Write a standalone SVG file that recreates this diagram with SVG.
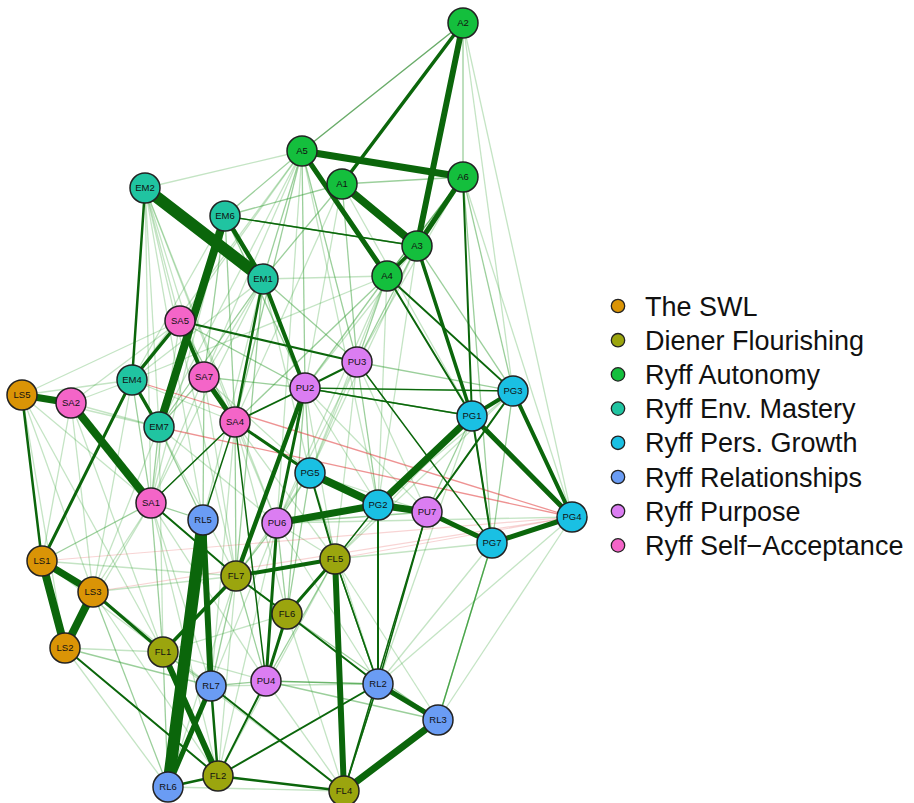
<svg xmlns="http://www.w3.org/2000/svg" width="914" height="803" viewBox="0 0 914 803">
<style>
.d{stroke:#0b660b;stroke-linecap:round;fill:none}
.f1{stroke:#1f8f1f;stroke-opacity:.65;stroke-width:1.4}
.f2{stroke:#2e9b2e;stroke-opacity:.48;stroke-width:1.3}
.f3{stroke:#3aa53a;stroke-opacity:.3;stroke-width:1.3}
.n{stroke:#e03a3a;stroke-opacity:.55;stroke-width:1.3}
.n2{stroke:#e03a3a;stroke-opacity:.22;stroke-width:1.2}
.nd circle{stroke:#222;stroke-width:1.5}
.nd text{font-family:"Liberation Sans",Arial,sans-serif;font-size:9.5px;fill:#111;text-anchor:middle}
.sw{fill:#DA9406}.fl{fill:#9BA50E}.au{fill:#14BF3D}.em{fill:#20C4A1}.pg{fill:#1AC0E3}.rl{fill:#6A9CF4}.pu{fill:#DB7DF2}.sa{fill:#F465C8}
.lg circle{stroke:#222;stroke-width:1.3}
.lg text{font-family:"Liberation Sans",Arial,sans-serif;font-size:27px;fill:#111}
</style>
<rect width="914" height="803" fill="#fff"/>
<g id="edges">
<g class="f3">
<line x1="145" y1="188" x2="302" y2="151"/><line x1="145" y1="188" x2="204" y2="377"/><line x1="145" y1="188" x2="235" y2="422"/>
<line x1="145" y1="188" x2="159" y2="427"/><line x1="145" y1="188" x2="151" y2="503"/><line x1="145" y1="188" x2="277" y2="523"/>
<line x1="145" y1="188" x2="236" y2="576"/><line x1="145" y1="188" x2="203" y2="520"/><line x1="145" y1="188" x2="180" y2="321"/>
<line x1="302" y1="151" x2="180" y2="321"/><line x1="302" y1="151" x2="204" y2="377"/><line x1="302" y1="151" x2="132" y2="380"/>
<line x1="302" y1="151" x2="159" y2="427"/><line x1="302" y1="151" x2="277" y2="523"/><line x1="302" y1="151" x2="378" y2="505"/>
<line x1="342" y1="184" x2="305" y2="388"/><line x1="342" y1="184" x2="235" y2="422"/><line x1="342" y1="184" x2="472" y2="416"/>
<line x1="463" y1="23" x2="513" y2="391"/><line x1="463" y1="23" x2="572" y2="517"/><line x1="463" y1="177" x2="572" y2="517"/>
<line x1="463" y1="177" x2="357" y2="362"/><line x1="417" y1="246" x2="310" y2="473"/><line x1="417" y1="246" x2="305" y2="388"/>
<line x1="417" y1="246" x2="378" y2="505"/><line x1="387" y1="276" x2="132" y2="380"/><line x1="387" y1="276" x2="310" y2="473"/>
<line x1="387" y1="276" x2="277" y2="523"/><line x1="387" y1="276" x2="378" y2="505"/><line x1="387" y1="276" x2="263" y2="279"/>
<line x1="225" y1="216" x2="132" y2="380"/><line x1="225" y1="216" x2="151" y2="503"/><line x1="263" y1="279" x2="204" y2="377"/>
<line x1="263" y1="279" x2="132" y2="380"/><line x1="263" y1="279" x2="151" y2="503"/><line x1="263" y1="279" x2="203" y2="520"/>
<line x1="263" y1="279" x2="310" y2="473"/><line x1="180" y1="321" x2="71" y2="403"/><line x1="180" y1="321" x2="151" y2="503"/>
<line x1="180" y1="321" x2="22" y2="395"/><line x1="132" y1="380" x2="71" y2="403"/><line x1="132" y1="380" x2="93" y2="592"/>
<line x1="132" y1="380" x2="22" y2="395"/><line x1="132" y1="380" x2="235" y2="422"/><line x1="204" y1="377" x2="151" y2="503"/>
<line x1="204" y1="377" x2="310" y2="473"/><line x1="204" y1="377" x2="236" y2="576"/><line x1="22" y1="395" x2="159" y2="427"/>
<line x1="22" y1="395" x2="151" y2="503"/><line x1="22" y1="395" x2="93" y2="592"/><line x1="22" y1="395" x2="65" y2="648"/>
<line x1="22" y1="395" x2="163" y2="652"/><line x1="71" y1="403" x2="159" y2="427"/><line x1="71" y1="403" x2="93" y2="592"/>
<line x1="71" y1="403" x2="42" y2="561"/><line x1="71" y1="403" x2="163" y2="652"/><line x1="159" y1="427" x2="93" y2="592"/>
<line x1="159" y1="427" x2="163" y2="652"/><line x1="159" y1="427" x2="277" y2="523"/><line x1="159" y1="427" x2="236" y2="576"/>
<line x1="235" y1="422" x2="277" y2="523"/><line x1="235" y1="422" x2="335" y2="559"/><line x1="235" y1="422" x2="211" y2="686"/>
<line x1="235" y1="422" x2="287" y2="614"/><line x1="151" y1="503" x2="93" y2="592"/><line x1="151" y1="503" x2="65" y2="648"/>
<line x1="151" y1="503" x2="211" y2="686"/><line x1="151" y1="503" x2="218" y2="776"/><line x1="151" y1="503" x2="266" y2="681"/>
<line x1="357" y1="362" x2="310" y2="473"/><line x1="357" y1="362" x2="277" y2="523"/><line x1="357" y1="362" x2="335" y2="559"/>
<line x1="357" y1="362" x2="427" y2="512"/><line x1="305" y1="388" x2="378" y2="505"/><line x1="305" y1="388" x2="335" y2="559"/>
<line x1="305" y1="388" x2="427" y2="512"/><line x1="310" y1="473" x2="427" y2="512"/><line x1="310" y1="473" x2="236" y2="576"/>
<line x1="310" y1="473" x2="378" y2="684"/><line x1="277" y1="523" x2="335" y2="559"/><line x1="277" y1="523" x2="378" y2="684"/>
<line x1="277" y1="523" x2="211" y2="686"/><line x1="277" y1="523" x2="218" y2="776"/><line x1="472" y1="416" x2="335" y2="559"/>
<line x1="472" y1="416" x2="378" y2="684"/><line x1="513" y1="391" x2="335" y2="559"/><line x1="513" y1="391" x2="378" y2="505"/>
<line x1="572" y1="517" x2="438" y2="720"/><line x1="572" y1="517" x2="378" y2="684"/><line x1="572" y1="517" x2="277" y2="523"/>
<line x1="492" y1="543" x2="378" y2="684"/><line x1="492" y1="543" x2="335" y2="559"/><line x1="335" y1="559" x2="438" y2="720"/>
<line x1="335" y1="559" x2="218" y2="776"/><line x1="236" y1="576" x2="378" y2="684"/><line x1="236" y1="576" x2="218" y2="776"/>
<line x1="236" y1="576" x2="168" y2="787"/><line x1="287" y1="614" x2="344" y2="791"/><line x1="287" y1="614" x2="163" y2="652"/>
<line x1="93" y1="592" x2="211" y2="686"/><line x1="93" y1="592" x2="236" y2="576"/><line x1="93" y1="592" x2="218" y2="776"/>
<line x1="65" y1="648" x2="168" y2="787"/><line x1="65" y1="648" x2="163" y2="652"/><line x1="42" y1="561" x2="163" y2="652"/>
<line x1="42" y1="561" x2="236" y2="576"/><line x1="163" y1="652" x2="266" y2="681"/><line x1="163" y1="652" x2="344" y2="791"/>
<line x1="266" y1="681" x2="344" y2="791"/><line x1="211" y1="686" x2="378" y2="684"/><line x1="168" y1="787" x2="344" y2="791"/>
</g>
<g class="f2">
<line x1="463" y1="23" x2="302" y2="151"/><line x1="463" y1="23" x2="463" y2="177"/><line x1="342" y1="184" x2="463" y2="177"/>
<line x1="302" y1="151" x2="225" y2="216"/><line x1="302" y1="151" x2="263" y2="279"/><line x1="302" y1="151" x2="235" y2="422"/>
<line x1="302" y1="151" x2="305" y2="388"/><line x1="302" y1="151" x2="357" y2="362"/><line x1="342" y1="184" x2="225" y2="216"/>
<line x1="342" y1="184" x2="263" y2="279"/><line x1="342" y1="184" x2="357" y2="362"/><line x1="463" y1="177" x2="513" y2="391"/>
<line x1="463" y1="177" x2="492" y2="543"/><line x1="417" y1="246" x2="357" y2="362"/><line x1="417" y1="246" x2="513" y2="391"/>
<line x1="387" y1="276" x2="305" y2="388"/><line x1="387" y1="276" x2="357" y2="362"/><line x1="387" y1="276" x2="235" y2="422"/>
<line x1="225" y1="216" x2="235" y2="422"/><line x1="225" y1="216" x2="305" y2="388"/><line x1="225" y1="216" x2="204" y2="377"/>
<line x1="263" y1="279" x2="159" y2="427"/><line x1="263" y1="279" x2="357" y2="362"/><line x1="263" y1="279" x2="236" y2="576"/>
<line x1="180" y1="321" x2="305" y2="388"/><line x1="180" y1="321" x2="235" y2="422"/><line x1="132" y1="380" x2="151" y2="503"/>
<line x1="204" y1="377" x2="159" y2="427"/><line x1="204" y1="377" x2="305" y2="388"/><line x1="204" y1="377" x2="203" y2="520"/>
<line x1="159" y1="427" x2="151" y2="503"/><line x1="159" y1="427" x2="203" y2="520"/><line x1="235" y1="422" x2="236" y2="576"/>
<line x1="151" y1="503" x2="42" y2="561"/><line x1="151" y1="503" x2="163" y2="652"/><line x1="151" y1="503" x2="203" y2="520"/>
<line x1="357" y1="362" x2="378" y2="505"/><line x1="357" y1="362" x2="513" y2="391"/><line x1="305" y1="388" x2="310" y2="473"/>
<line x1="305" y1="388" x2="287" y2="614"/><line x1="310" y1="473" x2="277" y2="523"/><line x1="310" y1="473" x2="287" y2="614"/>
<line x1="277" y1="523" x2="236" y2="576"/><line x1="277" y1="523" x2="287" y2="614"/><line x1="277" y1="523" x2="427" y2="512"/>
<line x1="472" y1="416" x2="427" y2="512"/><line x1="513" y1="391" x2="492" y2="543"/><line x1="492" y1="543" x2="438" y2="720"/>
<line x1="335" y1="559" x2="266" y2="681"/><line x1="236" y1="576" x2="266" y2="681"/><line x1="236" y1="576" x2="211" y2="686"/>
<line x1="287" y1="614" x2="438" y2="720"/><line x1="93" y1="592" x2="168" y2="787"/><line x1="65" y1="648" x2="211" y2="686"/>
<line x1="163" y1="652" x2="211" y2="686"/><line x1="163" y1="652" x2="168" y2="787"/><line x1="211" y1="686" x2="266" y2="681"/>
<line x1="266" y1="681" x2="438" y2="720"/><line x1="335" y1="559" x2="378" y2="684"/>
</g>
<g class="f1">
<line x1="463" y1="177" x2="387" y2="276"/><line x1="225" y1="216" x2="417" y2="246"/><line x1="472" y1="416" x2="492" y2="543"/>
<line x1="492" y1="543" x2="438" y2="720"/><line x1="305" y1="388" x2="472" y2="416"/><line x1="305" y1="388" x2="513" y2="391"/>
<line x1="266" y1="681" x2="378" y2="684"/><line x1="378" y1="684" x2="344" y2="791"/><line x1="335" y1="559" x2="378" y2="684"/>
</g>
<line class="n" x1="132" y1="380" x2="572" y2="517"/>
<line class="n" x1="159" y1="427" x2="572" y2="517"/>
<line class="n2" x1="93" y1="592" x2="572" y2="517"/>
<line class="n2" x1="335" y1="559" x2="572" y2="517"/>
<line class="n2" x1="42" y1="561" x2="572" y2="517"/>
<g class="d">
<line x1="463" y1="23" x2="302" y2="151" stroke-width="1.2" stroke-opacity=".35"/>
<line x1="463" y1="177" x2="472" y2="416" stroke-width="2"/>
<line x1="417" y1="246" x2="472" y2="416" stroke-width="3.5"/>
<line x1="387" y1="276" x2="513" y2="391" stroke-width="2"/>
<line x1="387" y1="276" x2="472" y2="416" stroke-width="2"/>
<line x1="225" y1="216" x2="417" y2="246" stroke-width="1.4"/>
<line x1="180" y1="321" x2="357" y2="362" stroke-width="2"/>
<line x1="305" y1="388" x2="357" y2="362" stroke-width="2"/>
<line x1="305" y1="388" x2="472" y2="416" stroke-width="1.4"/>
<line x1="305" y1="388" x2="513" y2="391" stroke-width="1.2"/>
<line x1="357" y1="362" x2="492" y2="543" stroke-width="1.5"/>
<line x1="235" y1="422" x2="305" y2="388" stroke-width="1.8"/>
<line x1="235" y1="422" x2="310" y2="473" stroke-width="3"/>
<line x1="151" y1="503" x2="235" y2="422" stroke-width="1.5"/>
<line x1="151" y1="503" x2="236" y2="576" stroke-width="2"/>
<line x1="235" y1="422" x2="203" y2="520" stroke-width="1.5"/>
<line x1="235" y1="422" x2="266" y2="681" stroke-width="1.5"/>
<line x1="263" y1="279" x2="235" y2="422" stroke-width="2.5"/>
<line x1="263" y1="279" x2="305" y2="388" stroke-width="4"/>
<line x1="145" y1="188" x2="132" y2="380" stroke-width="2.5"/>
<line x1="132" y1="380" x2="42" y2="561" stroke-width="3"/>
<line x1="22" y1="395" x2="42" y2="561" stroke-width="2.5"/>
<line x1="93" y1="592" x2="163" y2="652" stroke-width="3"/>
<line x1="65" y1="648" x2="218" y2="776" stroke-width="2"/>
<line x1="310" y1="473" x2="335" y2="559" stroke-width="2"/>
<line x1="378" y1="505" x2="335" y2="559" stroke-width="1.5"/>
<line x1="378" y1="505" x2="378" y2="684" stroke-width="2"/>
<line x1="427" y1="512" x2="378" y2="684" stroke-width="1.5"/>
<line x1="427" y1="512" x2="344" y2="791" stroke-width="1.5"/>
<line x1="472" y1="416" x2="492" y2="543" stroke-width="2"/>
<line x1="513" y1="391" x2="427" y2="512" stroke-width="2"/>
<line x1="287" y1="614" x2="378" y2="684" stroke-width="2"/>
<line x1="335" y1="559" x2="378" y2="684" stroke-width="1.5"/>
<line x1="378" y1="684" x2="344" y2="791" stroke-width="1.5"/>
<line x1="211" y1="686" x2="218" y2="776" stroke-width="2.5"/>
<line x1="211" y1="686" x2="344" y2="791" stroke-width="2"/>
<line x1="266" y1="681" x2="218" y2="776" stroke-width="2"/>
<line x1="218" y1="776" x2="378" y2="684" stroke-width="2"/>
<line x1="218" y1="776" x2="344" y2="791" stroke-width="2.5"/>
<line x1="168" y1="787" x2="218" y2="776" stroke-width="2.5"/>
<line x1="236" y1="576" x2="287" y2="614" stroke-width="2"/>
<line x1="287" y1="614" x2="335" y2="559" stroke-width="3"/>
<line x1="287" y1="614" x2="266" y2="681" stroke-width="3"/>
<line x1="277" y1="523" x2="266" y2="681" stroke-width="3"/>
<line x1="236" y1="576" x2="335" y2="559" stroke-width="4"/>
<line x1="236" y1="576" x2="163" y2="652" stroke-width="3.5"/>
<line x1="305" y1="388" x2="277" y2="523" stroke-width="3"/>
<line x1="305" y1="388" x2="236" y2="576" stroke-width="4.5"/>
<line x1="180" y1="321" x2="132" y2="380" stroke-width="3.5"/>
<line x1="132" y1="380" x2="159" y2="427" stroke-width="3.5"/>
<line x1="180" y1="321" x2="204" y2="377" stroke-width="4"/>
<line x1="204" y1="377" x2="235" y2="422" stroke-width="5"/>
<line x1="225" y1="216" x2="263" y2="279" stroke-width="4.5"/>
<line x1="463" y1="23" x2="342" y2="184" stroke-width="3.5"/>
<line x1="417" y1="246" x2="387" y2="276" stroke-width="3.5"/>
<line x1="463" y1="177" x2="417" y2="246" stroke-width="5"/>
<line x1="463" y1="23" x2="417" y2="246" stroke-width="6"/>
<line x1="302" y1="151" x2="387" y2="276" stroke-width="5"/>
<line x1="342" y1="184" x2="417" y2="246" stroke-width="8"/>
<line x1="302" y1="151" x2="463" y2="177" stroke-width="7"/>
<line x1="225" y1="216" x2="159" y2="427" stroke-width="8"/>
<line x1="145" y1="188" x2="263" y2="279" stroke-width="12"/>
<line x1="22" y1="395" x2="71" y2="403" stroke-width="7"/>
<line x1="71" y1="403" x2="151" y2="503" stroke-width="8"/>
<line x1="42" y1="561" x2="93" y2="592" stroke-width="7"/>
<line x1="42" y1="561" x2="65" y2="648" stroke-width="8"/>
<line x1="93" y1="592" x2="65" y2="648" stroke-width="8"/>
<line x1="472" y1="416" x2="513" y2="391" stroke-width="4"/>
<line x1="513" y1="391" x2="572" y2="517" stroke-width="4"/>
<line x1="472" y1="416" x2="572" y2="517" stroke-width="5"/>
<line x1="492" y1="543" x2="572" y2="517" stroke-width="5"/>
<line x1="427" y1="512" x2="492" y2="543" stroke-width="5"/>
<line x1="378" y1="505" x2="472" y2="416" stroke-width="7"/>
<line x1="378" y1="505" x2="427" y2="512" stroke-width="7"/>
<line x1="277" y1="523" x2="378" y2="505" stroke-width="7"/>
<line x1="310" y1="473" x2="378" y2="505" stroke-width="8"/>
<line x1="335" y1="559" x2="344" y2="791" stroke-width="6"/>
<line x1="378" y1="684" x2="438" y2="720" stroke-width="5"/>
<line x1="344" y1="791" x2="438" y2="720" stroke-width="7"/>
<line x1="211" y1="686" x2="168" y2="787" stroke-width="5"/>
<line x1="163" y1="652" x2="218" y2="776" stroke-width="6"/>
<line x1="203" y1="520" x2="211" y2="686" stroke-width="6"/>
<line x1="203" y1="520" x2="168" y2="787" stroke-width="12"/>
</g>
</g>
<g id="nodes" class="nd">
<g id="n-A2"><circle class="au" cx="463" cy="23" r="15"/><text x="463" y="26.3">A2</text></g>
<g id="n-A5"><circle class="au" cx="302" cy="151" r="15"/><text x="302" y="154.3">A5</text></g>
<g id="n-A1"><circle class="au" cx="342" cy="184" r="15"/><text x="342" y="187.3">A1</text></g>
<g id="n-A6"><circle class="au" cx="463" cy="177" r="15"/><text x="463" y="180.3">A6</text></g>
<g id="n-A3"><circle class="au" cx="417" cy="246" r="15"/><text x="417" y="249.3">A3</text></g>
<g id="n-A4"><circle class="au" cx="387" cy="276" r="15"/><text x="387" y="279.3">A4</text></g>
<g id="n-EM2"><circle class="em" cx="145" cy="188" r="15"/><text x="145" y="191.3">EM2</text></g>
<g id="n-EM6"><circle class="em" cx="225" cy="216" r="15"/><text x="225" y="219.3">EM6</text></g>
<g id="n-EM1"><circle class="em" cx="263" cy="279" r="15"/><text x="263" y="282.3">EM1</text></g>
<g id="n-EM4"><circle class="em" cx="132" cy="380" r="15"/><text x="132" y="383.3">EM4</text></g>
<g id="n-EM7"><circle class="em" cx="159" cy="427" r="15"/><text x="159" y="430.3">EM7</text></g>
<g id="n-SA5"><circle class="sa" cx="180" cy="321" r="15"/><text x="180" y="324.3">SA5</text></g>
<g id="n-SA7"><circle class="sa" cx="204" cy="377" r="15"/><text x="204" y="380.3">SA7</text></g>
<g id="n-SA2"><circle class="sa" cx="71" cy="403" r="15"/><text x="71" y="406.3">SA2</text></g>
<g id="n-SA4"><circle class="sa" cx="235" cy="422" r="15"/><text x="235" y="425.3">SA4</text></g>
<g id="n-SA1"><circle class="sa" cx="151" cy="503" r="15"/><text x="151" y="506.3">SA1</text></g>
<g id="n-LS5"><circle class="sw" cx="22" cy="395" r="15"/><text x="22" y="398.3">LS5</text></g>
<g id="n-LS1"><circle class="sw" cx="42" cy="561" r="15"/><text x="42" y="564.3">LS1</text></g>
<g id="n-LS3"><circle class="sw" cx="93" cy="592" r="15"/><text x="93" y="595.3">LS3</text></g>
<g id="n-LS2"><circle class="sw" cx="65" cy="648" r="15"/><text x="65" y="651.3">LS2</text></g>
<g id="n-PU3"><circle class="pu" cx="357" cy="362" r="15"/><text x="357" y="365.3">PU3</text></g>
<g id="n-PU2"><circle class="pu" cx="305" cy="388" r="15"/><text x="305" y="391.3">PU2</text></g>
<g id="n-PU6"><circle class="pu" cx="277" cy="523" r="15"/><text x="277" y="526.3">PU6</text></g>
<g id="n-PU7"><circle class="pu" cx="427" cy="512" r="15"/><text x="427" y="515.3">PU7</text></g>
<g id="n-PU4"><circle class="pu" cx="266" cy="681" r="15"/><text x="266" y="684.3">PU4</text></g>
<g id="n-PG3"><circle class="pg" cx="513" cy="391" r="15"/><text x="513" y="394.3">PG3</text></g>
<g id="n-PG1"><circle class="pg" cx="472" cy="416" r="15"/><text x="472" y="419.3">PG1</text></g>
<g id="n-PG5"><circle class="pg" cx="310" cy="473" r="15"/><text x="310" y="476.3">PG5</text></g>
<g id="n-PG2"><circle class="pg" cx="378" cy="505" r="15"/><text x="378" y="508.3">PG2</text></g>
<g id="n-PG4"><circle class="pg" cx="572" cy="517" r="15"/><text x="572" y="520.3">PG4</text></g>
<g id="n-PG7"><circle class="pg" cx="492" cy="543" r="15"/><text x="492" y="546.3">PG7</text></g>
<g id="n-RL5"><circle class="rl" cx="203" cy="520" r="15"/><text x="203" y="523.3">RL5</text></g>
<g id="n-RL7"><circle class="rl" cx="211" cy="686" r="15"/><text x="211" y="689.3">RL7</text></g>
<g id="n-RL2"><circle class="rl" cx="378" cy="684" r="15"/><text x="378" y="687.3">RL2</text></g>
<g id="n-RL3"><circle class="rl" cx="438" cy="720" r="15"/><text x="438" y="723.3">RL3</text></g>
<g id="n-RL6"><circle class="rl" cx="168" cy="787" r="15"/><text x="168" y="790.3">RL6</text></g>
<g id="n-FL7"><circle class="fl" cx="236" cy="576" r="15"/><text x="236" y="579.3">FL7</text></g>
<g id="n-FL5"><circle class="fl" cx="335" cy="559" r="15"/><text x="335" y="562.3">FL5</text></g>
<g id="n-FL6"><circle class="fl" cx="287" cy="614" r="15"/><text x="287" y="617.3">FL6</text></g>
<g id="n-FL1"><circle class="fl" cx="163" cy="652" r="15"/><text x="163" y="655.3">FL1</text></g>
<g id="n-FL2"><circle class="fl" cx="218" cy="776" r="15"/><text x="218" y="779.3">FL2</text></g>
<g id="n-FL4"><circle class="fl" cx="344" cy="791" r="15"/><text x="344" y="794.3">FL4</text></g>
</g>
<g id="legend" class="lg">
<circle class="sw" cx="618" cy="306" r="6.7"/><text x="645" y="315.5">The SWL</text>
<circle class="fl" cx="618" cy="340.2" r="6.7"/><text x="645" y="349.7">Diener Flourishing</text>
<circle class="au" cx="618" cy="374.4" r="6.7"/><text x="645" y="383.9">Ryff Autonomy</text>
<circle class="em" cx="618" cy="408.6" r="6.7"/><text x="645" y="418.1">Ryff Env. Mastery</text>
<circle class="pg" cx="618" cy="442.8" r="6.7"/><text x="645" y="452.3">Ryff Pers. Growth</text>
<circle class="rl" cx="618" cy="477" r="6.7"/><text x="645" y="486.5">Ryff Relationships</text>
<circle class="pu" cx="618" cy="511.2" r="6.7"/><text x="645" y="520.7">Ryff Purpose</text>
<circle class="sa" cx="618" cy="545.4" r="6.7"/><text x="645" y="554.9">Ryff Self−Acceptance</text>
</g>
</svg>
